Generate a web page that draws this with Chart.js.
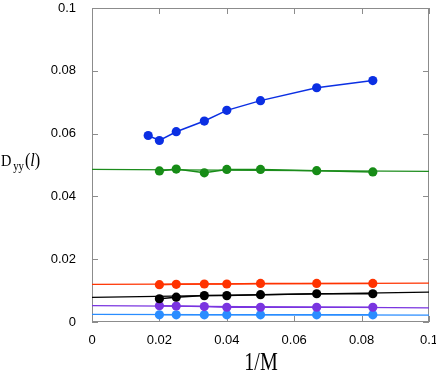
<!DOCTYPE html>
<html>
<head>
<meta charset="utf-8">
<script src="https://cdn.jsdelivr.net/npm/chart.js@4"></script>
<style>
  html, body { margin: 0; padding: 0; background: #fff; overflow: hidden; }
  #wrap { position: relative; width: 436px; height: 371px; overflow: hidden; }
  .serif { font-family: "Liberation Serif", "Times New Roman", serif; color: #000; white-space: nowrap; position: absolute; }
  #yTitle {
    left: 1px; top: 152px; font-size: 16px; line-height: 16px;
    transform: scale(0.9, 1); transform-origin: 0 0;
  }
  #yTitle sub { font-size: 12px; vertical-align: -4px; line-height: 0; margin-left: 2px; margin-right: 1px; }
  #yTitle .par { font-size: 18px; }
  #xTitle {
    left: 261px; top: 349px; font-size: 26px; line-height: 26px;
    transform: translateX(-50%) scale(0.77, 1); transform-origin: 50% 0;
  }
</style>
</head>
<body>
<div id="wrap">
  <canvas id="chart" width="436" height="371"></canvas>
  <div id="yTitle" class="serif">D<sub>yy</sub><span class="par">(<i>l</i>)</span></div>
  <div id="xTitle" class="serif">1/M</div>
</div>
<script>
// 1/M values
const xAll = [0.01667, 0.02, 0.025, 0.03333, 0.04, 0.05, 0.06667, 0.08333];
const xSeven = xAll.slice(1);
const fitX = [0, 0.1];

const blueVals   = [0.0594, 0.0578, 0.0606, 0.0640, 0.0674, 0.0705, 0.0746, 0.0769];
const greenVals  = [0.0481, 0.0487, 0.0475, 0.0486, 0.0486, 0.0482, 0.0478];
const redVals    = [0.0119, 0.0120, 0.0121, 0.0121, 0.0123, 0.0123, 0.0123];
const blackVals  = [0.0074, 0.0079, 0.0084, 0.0084, 0.0087, 0.0090, 0.0090];
const purpleVals = [0.0052, 0.0051, 0.0049, 0.0047, 0.0047, 0.0047, 0.0047];
const skyVals    = [0.0023, 0.0023, 0.0023, 0.0023, 0.0023, 0.0023, 0.0023];

// straight fits, value at 1/M = 0 and 1/M = 0.1
const greenFit  = [0.0486, 0.0480];
const redFit    = [0.0120, 0.0124];
const blackFit  = [0.00785, 0.00954];
const purpleFit = [0.0052, 0.0045];
const skyFit    = [0.00244, 0.0022];

const xTickLabels = ['0', '0.02', '0.04', '0.06', '0.08', '0.1'];
const yTickLabels = ['0', '0.02', '0.04', '0.06', '0.08', '0.1'];

const pts = (xs, ys) => xs.map((x, i) => ({ x: x, y: ys[i] }));

const dataSet = (vals, xs, color) => ({
  data: pts(xs, vals),
  borderColor: color,
  backgroundColor: color,
  borderWidth: 1.5,
  pointRadius: 4.6,
  pointBorderWidth: 0,
  showLine: true
});
const fitSet = (vals, color) => ({
  data: pts(fitX, vals),
  borderColor: color,
  borderWidth: 1.3,
  pointRadius: 0,
  showLine: true
});

// box round the plot with inward ticks on all four sides
const frame = {
  id: 'frame',
  beforeDatasetsDraw(chart) {
    const { ctx, chartArea: a, scales } = chart;
    ctx.save();
    ctx.strokeStyle = '#8c8c8c';
    ctx.lineWidth = 1;
    ctx.strokeRect(a.left + 0.5, a.top + 0.5, a.right - a.left - 1, a.bottom - a.top - 1);
    ctx.beginPath();
    scales.x.ticks.forEach(t => {
      const px = Math.round(scales.x.getPixelForValue(t.value)) + 0.5;
      ctx.moveTo(px, a.top); ctx.lineTo(px, a.top + 6);
      ctx.moveTo(px, a.bottom); ctx.lineTo(px, a.bottom - 6);
    });
    scales.y.ticks.forEach(t => {
      const py = Math.round(scales.y.getPixelForValue(t.value)) + 0.5;
      ctx.moveTo(a.left, py); ctx.lineTo(a.left + 6, py);
      ctx.moveTo(a.right, py); ctx.lineTo(a.right - 6, py);
    });
    ctx.stroke();
    ctx.restore();
  }
};

const tickFont = { family: '"Liberation Sans", Arial, Helvetica, sans-serif', size: 13 };

new Chart(document.getElementById('chart'), {
  type: 'scatter',
  data: {
    datasets: [
      fitSet(greenFit, '#1c8c1c'),
      fitSet(redFit, '#ff3300'),
      fitSet(blackFit, '#000000'),
      fitSet(purpleFit, '#7a35e0'),
      fitSet(skyFit, '#2a8dff'),
      dataSet(blueVals, xAll, '#0b2fe3'),
      dataSet(greenVals, xSeven, '#168c16'),
      dataSet(redVals, xSeven, '#ff3300'),
      dataSet(blackVals, xSeven, '#000000'),
      dataSet(purpleVals, xSeven, '#7a35e0'),
      dataSet(skyVals, xSeven, '#2a8dff')
    ]
  },
  options: {
    responsive: false,
    animation: false,
    layout: { padding: { top: 8, right: 7, left: 0, bottom: 0 } },
    plugins: { legend: { display: false }, tooltip: { enabled: false } },
    scales: {
      x: {
        type: 'linear', min: 0, max: 0.1,
        grid: { display: false },
        border: { display: false },
        ticks: {
          stepSize: 0.02, padding: 3, color: '#000', font: tickFont, maxRotation: 0,
          callback: (v, i) => xTickLabels[i]
        },
        afterFit(s) { s.height = 49; s.paddingLeft = 0; s.paddingRight = 0; }
      },
      y: {
        type: 'linear', min: 0, max: 0.1,
        grid: { display: false },
        border: { display: false },
        ticks: {
          stepSize: 0.02, padding: 8, color: '#000', font: tickFont,
          callback: (v, i) => yTickLabels[i]
        },
        afterFit(s) { s.width = 92; s.paddingTop = 0; s.paddingBottom = 0; }
      }
    }
  },
  plugins: [frame]
});
</script>
</body>
</html>
